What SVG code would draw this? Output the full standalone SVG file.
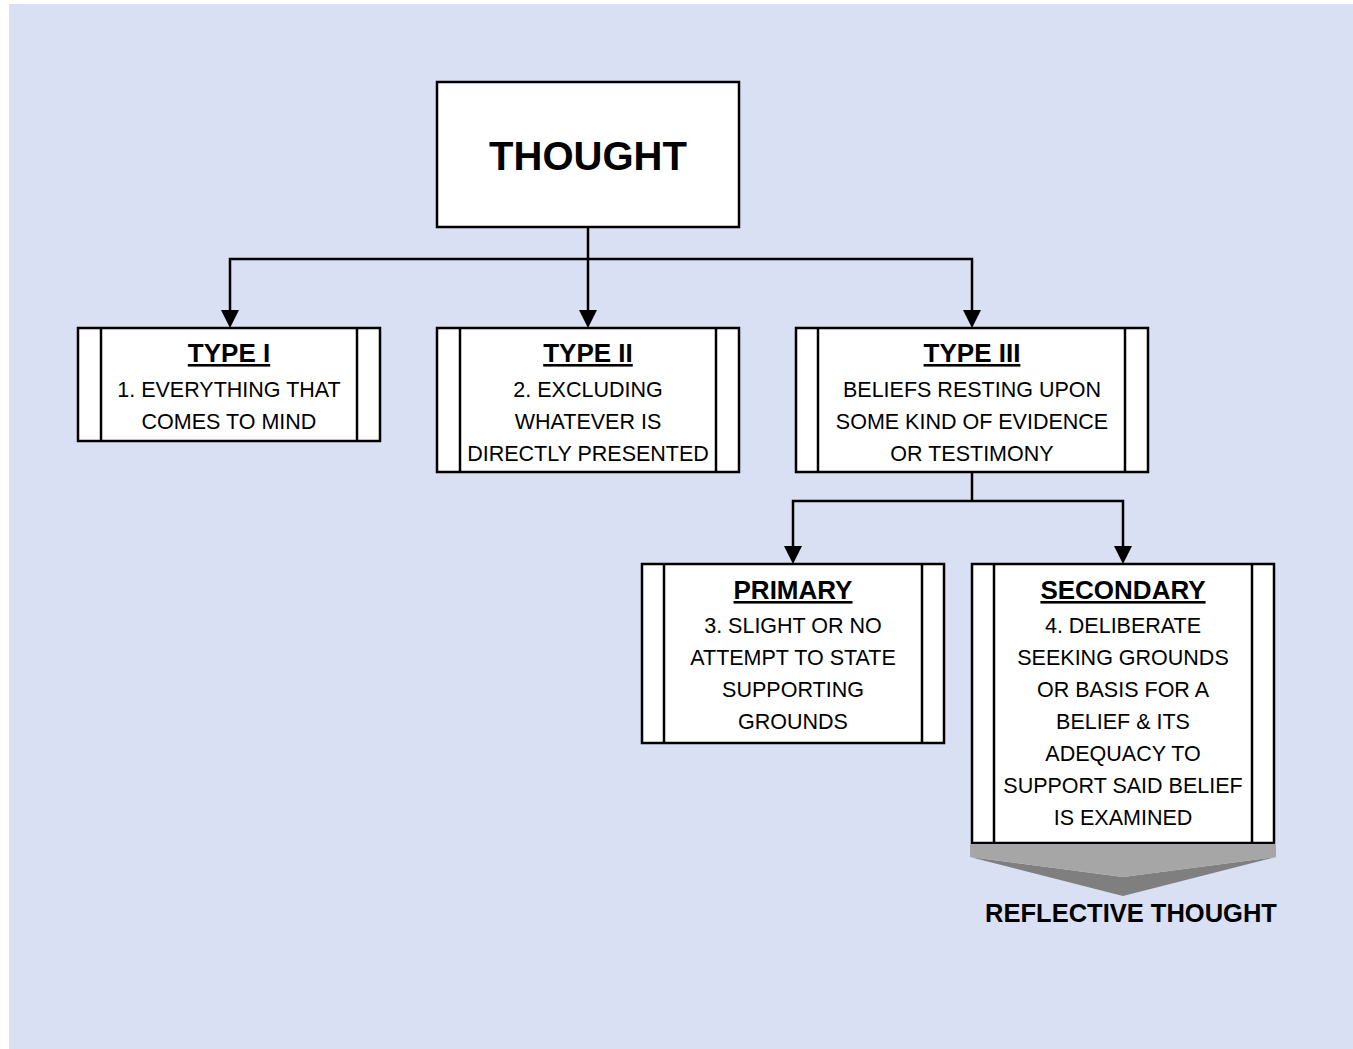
<svg xmlns="http://www.w3.org/2000/svg" width="1353" height="1049" viewBox="0 0 1353 1049">
<style>
.box{fill:#fff;stroke:#000;stroke-width:2.5}
.bar{stroke:#000;stroke-width:2.5}
.con{fill:none;stroke:#000;stroke-width:2.5}
.t{font-family:"Liberation Sans",Arial,sans-serif;font-size:21.5px;fill:#000;text-anchor:middle}
.h{font-family:"Liberation Sans",Arial,sans-serif;font-size:26px;font-weight:bold;fill:#000;text-anchor:middle;text-decoration:underline}
.big{font-family:"Liberation Sans",Arial,sans-serif;font-weight:bold;fill:#000;text-anchor:middle}
</style>
<defs>
<marker id="arr" viewBox="0 0 18 18" refX="9" refY="9" markerWidth="18" markerHeight="18" markerUnits="userSpaceOnUse" orient="auto">
<path d="M0,0 L18,9 L0,18 z" fill="#000"/>
</marker>
</defs>
<rect x="0" y="0" width="1353" height="1049" fill="#fff"/>
<rect x="9" y="4" width="1344" height="1045" fill="#DAE0F3"/>

<g id="connectors">
<path class="con" d="M588,228 V259"/>
<path class="con" d="M588,259 H230 V319" marker-end="url(#arr)"/>
<path class="con" d="M588,259 V319" marker-end="url(#arr)"/>
<path class="con" d="M588,259 H972 V319" marker-end="url(#arr)"/>
<path class="con" d="M972,473 V501"/>
<path class="con" d="M972,501 H793 V555" marker-end="url(#arr)"/>
<path class="con" d="M972,501 H1123 V555" marker-end="url(#arr)"/>
</g>

<g id="thought">
<rect class="box" x="437" y="82" width="302" height="145"/>
<text class="big" x="588" y="170" font-size="40">THOUGHT</text>
</g>

<g id="type1">
<rect class="box" x="78" y="328" width="302" height="113"/>
<line class="bar" x1="101" y1="328" x2="101" y2="441"/>
<line class="bar" x1="357" y1="328" x2="357" y2="441"/>
<text class="h" x="229" y="362">TYPE I</text>
<text class="t" x="229" y="397">1. EVERYTHING THAT</text>
<text class="t" x="229" y="429">COMES TO MIND</text>
</g>

<g id="type2">
<rect class="box" x="437" y="328" width="302" height="144"/>
<line class="bar" x1="460" y1="328" x2="460" y2="472"/>
<line class="bar" x1="716" y1="328" x2="716" y2="472"/>
<text class="h" x="588" y="362">TYPE II</text>
<text class="t" x="588" y="397">2. EXCLUDING</text>
<text class="t" x="588" y="429">WHATEVER IS</text>
<text class="t" x="588" y="461">DIRECTLY PRESENTED</text>
</g>

<g id="type3">
<rect class="box" x="796" y="328" width="352" height="144"/>
<line class="bar" x1="818" y1="328" x2="818" y2="472"/>
<line class="bar" x1="1125" y1="328" x2="1125" y2="472"/>
<text class="h" x="972" y="362">TYPE III</text>
<text class="t" x="972" y="397">BELIEFS RESTING UPON</text>
<text class="t" x="972" y="429">SOME KIND OF EVIDENCE</text>
<text class="t" x="972" y="461">OR TESTIMONY</text>
</g>

<g id="primary">
<rect class="box" x="642" y="564" width="302" height="179"/>
<line class="bar" x1="664" y1="564" x2="664" y2="743"/>
<line class="bar" x1="922" y1="564" x2="922" y2="743"/>
<text class="h" x="793" y="599">PRIMARY</text>
<text class="t" x="793" y="633">3. SLIGHT OR NO</text>
<text class="t" x="793" y="665">ATTEMPT TO STATE</text>
<text class="t" x="793" y="697">SUPPORTING</text>
<text class="t" x="793" y="729">GROUNDS</text>
</g>

<g id="secondary">
<rect class="box" x="972" y="564" width="302" height="279"/>
<line class="bar" x1="994" y1="564" x2="994" y2="843"/>
<line class="bar" x1="1252" y1="564" x2="1252" y2="843"/>
<text class="h" x="1123" y="599">SECONDARY</text>
<text class="t" x="1123" y="633">4. DELIBERATE</text>
<text class="t" x="1123" y="665">SEEKING GROUNDS</text>
<text class="t" x="1123" y="697">OR BASIS FOR A</text>
<text class="t" x="1123" y="729">BELIEF &amp; ITS</text>
<text class="t" x="1123" y="761">ADEQUACY TO</text>
<text class="t" x="1123" y="793">SUPPORT SAID BELIEF</text>
<text class="t" x="1123" y="825">IS EXAMINED</text>
</g>

<g id="reflective">
<polygon points="970,857 1123,877 1276,857 1123,896" fill="#7F7F7F"/>
<polygon points="970,844.5 1276,844.5 1276,857 1123,877 970,857" fill="#A6A6A6"/>
<text class="big" x="1131" y="922" font-size="25.5">REFLECTIVE THOUGHT</text>
</g>
</svg>
